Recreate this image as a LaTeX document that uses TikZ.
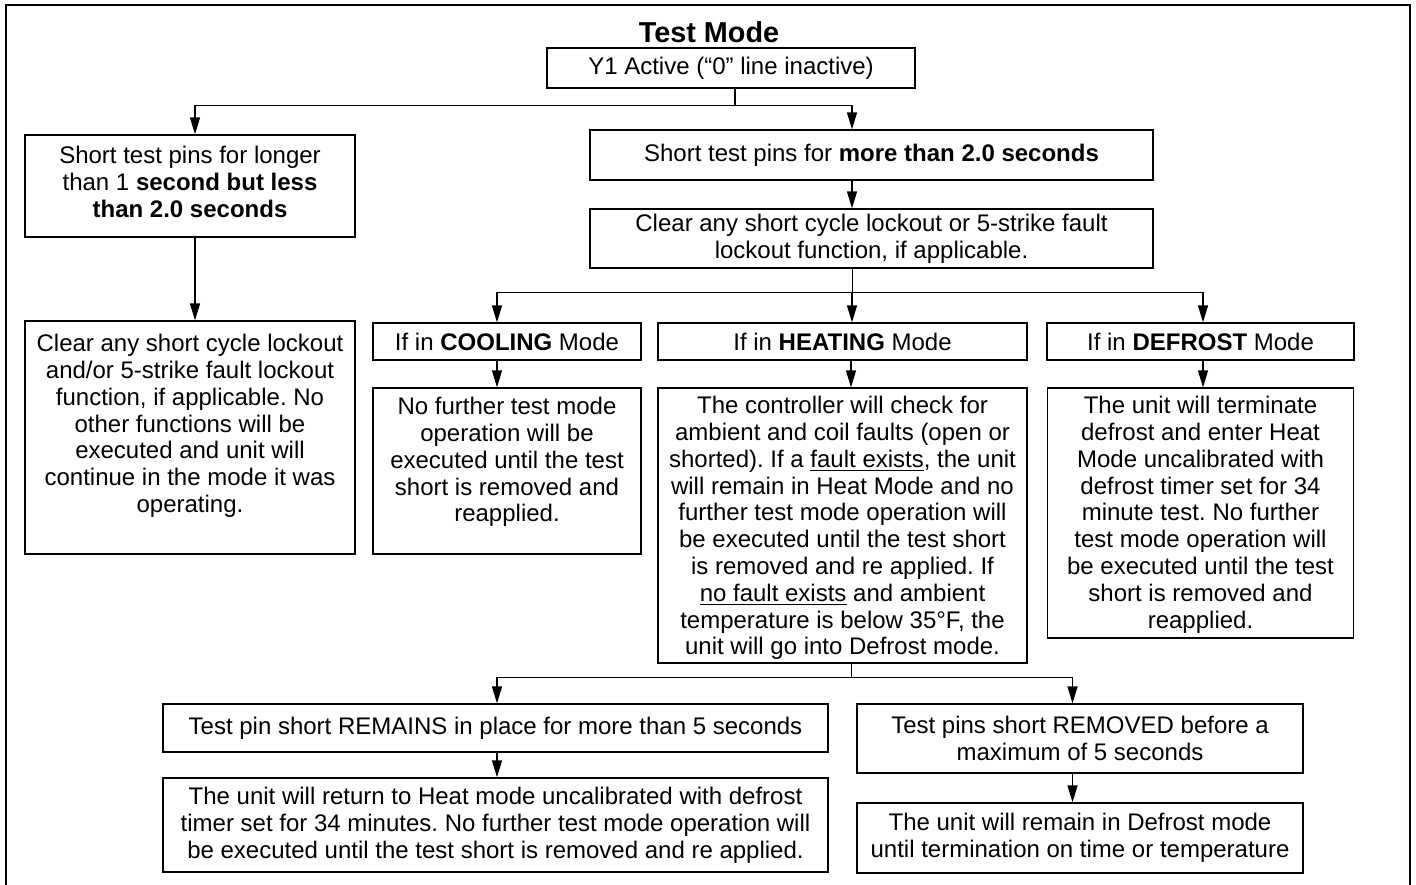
\documentclass[tikz,border=0pt]{standalone}
\usepackage{fontspec}
\setmainfont{Liberation Sans}
\usetikzlibrary{arrows.meta}
\frenchspacing
\newcommand{\fs}{\fontsize{12}{13.4}\selectfont}
\newcommand{\tbx}[4]{\parbox[c][#2][t]{#1}{\centering\vspace*{#3}\strut #4}}
\begin{document}
\frenchspacing
\begin{tikzpicture}[x=0.5pt,y=-0.5pt,
  box/.style={draw, line width=0.65pt, inner sep=0pt, align=center, font=\fs},
  arr/.style={line width=0.65pt, -{Triangle[length=8.5pt,width=5pt]}},
  frame/.style={line width=1.3pt}]
\useasboundingbox (0,0) rectangle (1416,884);
\draw[frame] (6,890) -- (6,5) -- (1410,5) -- (1410,890);

\node[font=\fontsize{14.4}{16}\selectfont\bfseries, anchor=base] (title) at (709,42) {Test Mode};

\node[box, minimum width=184pt, minimum height=20pt] (y1) at (731,68) {Y1 Active (“0” line inactive)};

\node[box] (lb1) at (190,186)
  {\tbx{165pt}{51pt}{5pt}{Short test pins for longer\\ than 1 \textbf{second but less}\\ \textbf{than 2.0 seconds}}};

\node[box, minimum width=281.5pt, minimum height=25pt] (more) at (871.5,155)
  {Short test pins for \textbf{more than 2.0 seconds}};

\node[box, minimum width=281.5pt, minimum height=29.5pt] (clear) at (871.5,238.5)
  {Clear any short cycle lockout or 5-strike fault\\ lockout function, if applicable.};

\node[box, minimum width=134pt, minimum height=18.5pt] (cool) at (507,341.5) {If in \textbf{COOLING} Mode};
\node[box, minimum width=184.5pt, minimum height=18.5pt] (heat) at (842.5,341.5) {If in \textbf{HEATING} Mode};
\node[box, minimum width=153.5pt, minimum height=18.5pt] (defr) at (1200.5,341.5) {If in \textbf{DEFROST} Mode};

\node[box] (lb2) at (190,437.5) {\tbx{165pt}{116.5pt}{6pt}{Clear any short cycle lockout\\ and/or 5-strike fault lockout\\ function, if applicable. No\\ other functions will be\\ executed and unit will\\ continue in the mode it was\\ operating.}};

\node[box] (cooltxt) at (507,471) {\tbx{134pt}{83pt}{4pt}{No further test mode\\ operation will be\\ executed until the test\\ short is removed and\\ reapplied.}};

\node[box] (heattxt) at (842.5,525.5) {\tbx{184.5pt}{137.5pt}{3.5pt}{The controller will check for\\ ambient and coil faults (open or\\ shorted). If a \underline{fault exists}, the unit\\ will remain in Heat Mode and no\\ further test mode operation will\\ be executed until the test short\\ is removed and re applied. If\\ \underline{no fault exists} and ambient\\ temperature is below 35°F, the\\ unit will go into Defrost mode.}};

\node[box] (defrtxt) at (1200.5,513) {\tbx{153pt}{125pt}{3.5pt}{The unit will terminate\\ defrost and enter Heat\\ Mode uncalibrated with\\ defrost timer set for 34\\ minute test. No further\\ test mode operation will\\ be executed until the test\\ short is removed and\\ reapplied.}};

\node[box, minimum width=332.5pt, minimum height=24pt] (rem) at (495.5,728)
  {Test pin short REMAINS in place for more than 5 seconds};
\node[box, minimum width=332.5pt, minimum height=47pt] (ret) at (495.5,825)
  {The unit will return to Heat mode uncalibrated with defrost\\ timer set for 34 minutes. No further test mode operation will\\ be executed until the test short is removed and re applied.};

\node[box, minimum width=223pt, minimum height=34.5pt] (remv) at (1080,738.5)
  {Test pins short REMOVED before a\\ maximum of 5 seconds};
\node[box, minimum width=223pt, minimum height=35pt] (stay) at (1080,838)
  {The unit will remain in Defrost mode\\ until termination on time or temperature};

% connectors
\draw[arr] ([xshift=2pt]y1.south) -- ++(0,17) -| ([xshift=2.5pt]lb1.north);
\draw[arr] ([xshift=2pt]y1.south) -- ++(0,17) -| ([xshift=-9.75pt]more.north);
\draw[arr] ([xshift=2.5pt]lb1.south) -- ([xshift=2.5pt]lb2.north);
\draw[arr] ([xshift=-9.75pt]more.south) -- ([xshift=-9.75pt]clear.north);
\draw ([xshift=-9.75pt]clear.south) -- ++(0,24) coordinate (b2);
\draw[arr] (b2) -| ([xshift=-5pt]cool.north);
\draw[arr] (b2) -| ([xshift=1.25pt]defr.north);
\draw[arr] (b2) -- (b2 |- heat.north);
\draw[arr] ([xshift=-5pt]cool.south) -- ([xshift=-5pt]cooltxt.north);
\draw[arr] ([xshift=4.25pt]heat.south) -- ([xshift=4.25pt]heattxt.north);
\draw[arr] ([xshift=1.25pt]defr.south) -- ([xshift=1.25pt]defrtxt.north);
\draw ([xshift=4.25pt]heattxt.south) -- ++(0,14) coordinate (b3);
\draw[arr] (b3) -| ([xshift=0.75pt]rem.north);
\draw[arr] (b3) -| ([xshift=-3.75pt]remv.north);
\draw[arr] ([xshift=0.75pt]rem.south) -- ([xshift=0.75pt]ret.north);
\draw[arr] ([xshift=-3.75pt]remv.south) -- ([xshift=-3.75pt]stay.north);
\end{tikzpicture}
\end{document}
